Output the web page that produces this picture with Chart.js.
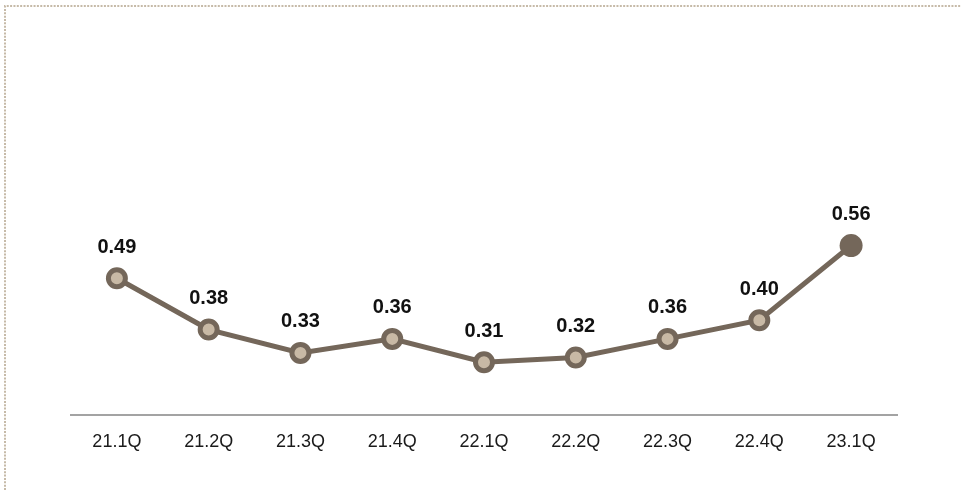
<!DOCTYPE html>
<html>
<head>
<meta charset="utf-8">
<script src="https://cdn.jsdelivr.net/npm/chart.js@4.4.0/dist/chart.umd.min.js"></script>
<style>
    html, body { margin: 0; padding: 0; background: #fff; }
</style>
</head>
<body>
<canvas id="lineChart" width="961" height="490"></canvas>
<script>
// Chart data
const quarters = ['21.1Q', '21.2Q', '21.3Q', '21.4Q', '22.1Q', '22.2Q', '22.3Q', '22.4Q', '23.1Q'];
const values = [0.49, 0.38, 0.33, 0.36, 0.31, 0.32, 0.36, 0.40, 0.56];
const valueLabels = ['0.49', '0.38', '0.33', '0.36', '0.31', '0.32', '0.36', '0.40', '0.56'];

const lineColor = '#74675a';
const lightFill = '#c8b9a5';
const lastIdx = values.length - 1;

// Dotted frame on the top and left edge
const framePlugin = {
    id: 'frame',
    beforeDraw(chart) {
        const ctx = chart.ctx;
        ctx.save();
        ctx.strokeStyle = '#c6baa8';
        ctx.lineWidth = 2;
        ctx.setLineDash([2, 1.35]);
        ctx.beginPath();
        ctx.moveTo(5, 490);
        ctx.lineTo(5, 6);
        ctx.lineTo(961, 6);
        ctx.stroke();
        ctx.restore();
    }
};

// Value labels above each point
const valueLabelPlugin = {
    id: 'valueLabels',
    afterDatasetsDraw(chart) {
        const ctx = chart.ctx;
        const meta = chart.getDatasetMeta(0);
        ctx.save();
        ctx.font = 'bold 20px "Liberation Sans", Arial, sans-serif';
        ctx.fillStyle = '#111';
        ctx.textAlign = 'center';
        ctx.textBaseline = 'middle';
        meta.data.forEach((pt, i) => {
            ctx.fillText(valueLabels[i], pt.x, pt.y - 31);
        });
        ctx.restore();
    }
};

const lineChart = new Chart(document.getElementById('lineChart'), {
    type: 'line',
    data: {
        labels: quarters,
        datasets: [{
            data: values,
            borderColor: lineColor,
            borderWidth: 5,
            pointBackgroundColor: values.map((v, i) => i === lastIdx ? lineColor : lightFill),
            pointBorderColor: lineColor,
            pointBorderWidth: values.map((v, i) => i === lastIdx ? 0 : 5),
            pointRadius: values.map((v, i) => i === lastIdx ? 11.5 : 8.5),
            tension: 0,
            fill: false,
        }],
    },
    options: {
        responsive: false,
        animation: false,
        layout: { padding: { left: 71, right: 64, top: 30, bottom: 21 } },
        plugins: {
            legend: { display: false },
            tooltip: { enabled: false },
        },
        scales: {
            x: {
                offset: true,
                grid: { display: false, drawTicks: false },
                border: { display: true, color: '#a3a3a3', width: 2 },
                ticks: {
                    padding: 16,
                    color: '#1a1a1a',
                    font: { size: 18, family: '"Liberation Sans", Arial, sans-serif' },
                },
            },
            y: {
                display: false,
                min: 0.196,
                max: 1.022,
            },
        },
    },
    plugins: [framePlugin, valueLabelPlugin],
});
</script>
</body>
</html>
